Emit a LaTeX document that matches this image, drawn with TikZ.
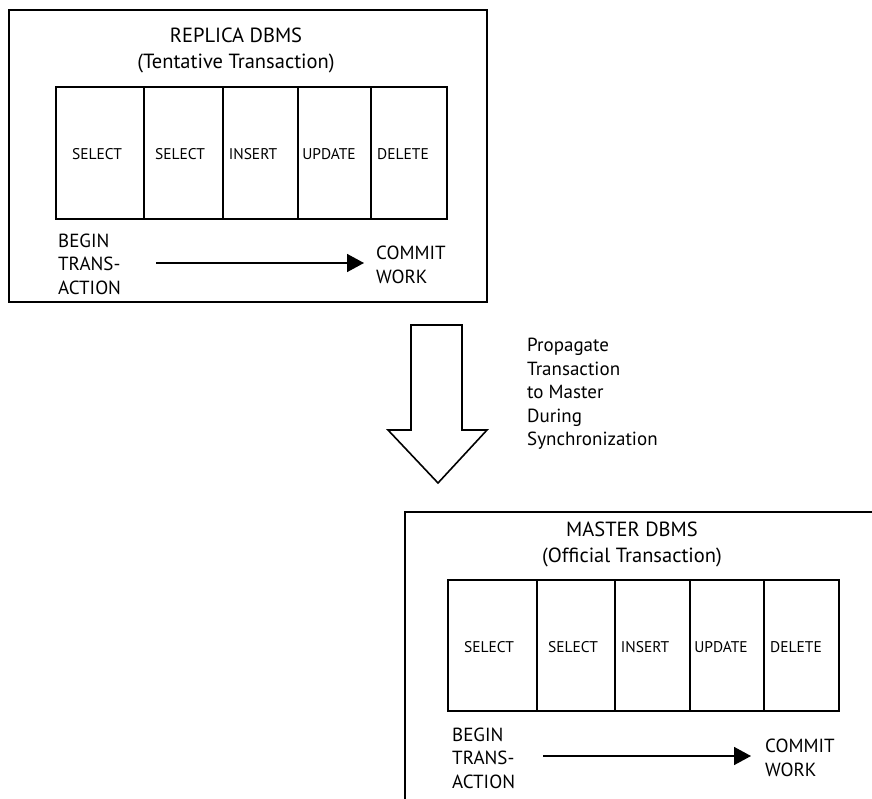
\documentclass[tikz,border=0pt]{standalone}
\usepackage{fontspec}
\setmainfont{PT Sans}
\usetikzlibrary{arrows.meta}
\begin{document}
\begin{tikzpicture}[x=1pt,y=-1pt,
  frame/.style={draw=black,line width=2pt},
  table/.style={draw=black,line width=2pt},
  divider/.style={draw=black,line width=2pt},
  title/.style={font=\fontsize{20.5}{26}\selectfont,align=center,inner sep=0pt},
  cell/.style={font=\fontsize{15.5}{18}\selectfont,inner sep=0pt},
  lbl/.style={font=\fontsize{19}{23.5}\selectfont,align=left,inner sep=0pt,anchor=west},
  flow/.style={line width=1.6pt,-{Triangle[length=17pt,width=18pt]}},
  bigarrow/.style={draw=black,line width=1.6pt,fill=white,line join=miter}]
\useasboundingbox (0,0) rectangle (872,799);
\clip (0,0) rectangle (872,799);

% ---------- replica side ----------
\draw[frame] (9,10) rectangle (487,302);
\node[title] (rtitle) at (236,50) {REPLICA DBMS\\(Tentative Transaction)};
\draw[table] (56,87) rectangle (447,219);
\foreach \x in {144,223,298,371} \draw[divider] (\x,88) -- (\x,218);
\node[cell] (r1) at (97,154) {SELECT};
\node[cell] (r2) at (180,154) {SELECT};
\node[cell] (r3) at (253,154) {INSERT};
\node[cell] (r4) at (329,154) {UPDATE};
\node[cell] (r5) at (403,154) {DELETE};
\node[lbl] (rbegin) at (58,264) {BEGIN\\TRANS-\\ACTION};
\node[lbl] (rcommit) at (376,265) {COMMIT\\WORK};
\coordinate (rs) at (156,263);
\coordinate (re) at (364,263);
\draw[flow] (rs) -- (re);

% ---------- propagation arrow ----------
\draw[bigarrow] (411,325) -- (462,325) -- (462,430) -- (487,430) -- (438,483)
  -- (388,430) -- (411,430) -- cycle;
\node[lbl] (prop) at (527,394) {Propagate\\Transaction\\to Master\\During\\Synchronization};

% ---------- master side ----------
\draw[frame] (405,512) rectangle (890,820);
\node[title] (mtitle) at (632,544) {MASTER DBMS\\(Official Transaction)};
\draw[table] (448,580) rectangle (839,711);
\foreach \x in {537,615,690,764} \draw[divider] (\x,581) -- (\x,710);
\node[cell] (m1) at (489,647) {SELECT};
\node[cell] (m2) at (573,647) {SELECT};
\node[cell] (m3) at (645,647) {INSERT};
\node[cell] (m4) at (721,647) {UPDATE};
\node[cell] (m5) at (796,647) {DELETE};
\node[lbl] (mbegin) at (452,758) {BEGIN\\TRANS-\\ACTION};
\node[lbl] (mcommit) at (765,758) {COMMIT\\WORK};
\coordinate (ms) at (543,756);
\coordinate (me) at (751,756);
\draw[flow] (ms) -- (me);
\end{tikzpicture}
\end{document}
